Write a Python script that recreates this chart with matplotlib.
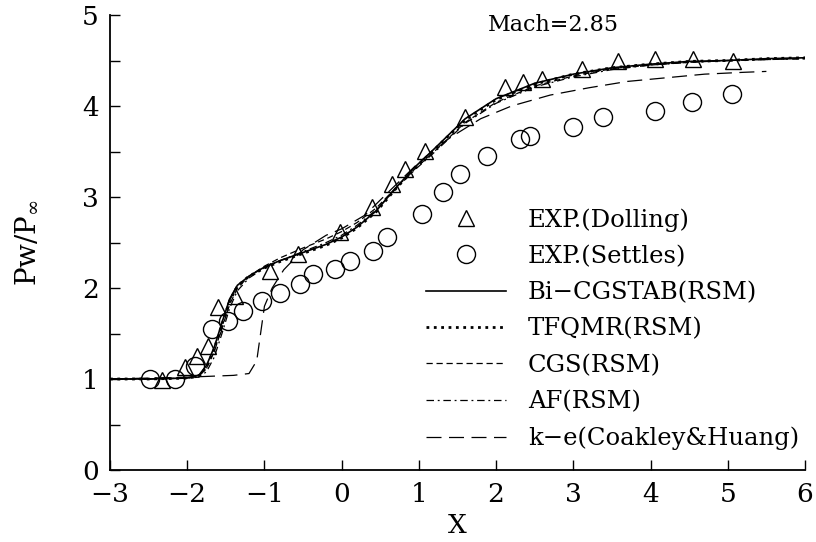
import matplotlib
matplotlib.use("Agg")
import matplotlib.pyplot as plt
from matplotlib.ticker import MultipleLocator

# --------------------------
# Data
# --------------------------
dolling_x = [-2.33, -2.03, -1.87, -1.73, -1.60, -1.38, -0.93, -0.56, -0.02, 0.39, 0.65,
             0.82, 1.08, 1.60, 2.12, 2.35, 2.60, 3.11, 3.58, 4.06, 4.55, 5.07]
dolling_y = [0.99, 1.13, 1.25, 1.36, 1.79, 1.91, 2.19, 2.37, 2.62, 2.89, 3.14,
             3.31, 3.51, 3.88, 4.21, 4.26, 4.30, 4.41, 4.49, 4.52, 4.52, 4.49]

settles_x = [-2.48, -2.16, -1.90, -1.68, -1.47, -1.28, -1.03, -0.80, -0.54, -0.37, -0.09,
             0.11, 0.41, 0.59, 1.04, 1.31, 1.53, 1.88, 2.31, 2.44, 3.00, 3.39, 4.06, 4.54, 5.06]
settles_y = [1.00, 1.00, 1.14, 1.55, 1.64, 1.75, 1.86, 1.95, 2.04, 2.15, 2.21,
             2.30, 2.41, 2.56, 2.81, 3.05, 3.25, 3.45, 3.64, 3.67, 3.77, 3.88, 3.95, 4.04, 4.13]

bicg_x = [-3.0, -2.5, -2.0, -1.85, -1.75, -1.65, -1.55, -1.45, -1.35, -1.2, -1.0, -0.8, -0.5,
          -0.2, 0.0, 0.2, 0.45, 0.7, 0.95, 1.2, 1.6, 2.0, 2.5, 3.0, 3.5, 4.0, 4.5, 5.0, 5.5, 6.0]
bicg_y = [1.00, 1.00, 1.01, 1.04, 1.15, 1.35, 1.62, 1.88, 2.03, 2.13, 2.23, 2.30, 2.39,
          2.48, 2.56, 2.67, 2.85, 3.10, 3.33, 3.53, 3.86, 4.08, 4.25, 4.35, 4.42, 4.46, 4.49, 4.50, 4.52, 4.53]

tfqmr_x = [-3.0, -2.5, -2.0, -1.85, -1.75, -1.65, -1.55, -1.45, -1.35, -1.2, -1.0, -0.8, -0.5,
           -0.2, 0.0, 0.2, 0.45, 0.7, 0.95, 1.2, 1.6, 2.0, 2.5, 3.0, 3.5, 4.0, 4.5, 5.0, 5.5, 6.0]
tfqmr_y = [1.00, 1.00, 1.01, 1.03, 1.13, 1.33, 1.60, 1.86, 2.02, 2.13, 2.22, 2.29, 2.38,
           2.47, 2.55, 2.66, 2.84, 3.09, 3.32, 3.52, 3.85, 4.07, 4.24, 4.35, 4.42, 4.46, 4.49, 4.50, 4.52, 4.53]

cgs_x = [-3.0, -2.5, -2.0, -1.85, -1.75, -1.65, -1.55, -1.45, -1.35, -1.2, -1.0, -0.8, -0.5,
         -0.2, 0.0, 0.2, 0.45, 0.7, 0.95, 1.2, 1.6, 2.0, 2.5, 3.0, 3.5, 4.0, 4.5, 5.0, 5.5, 6.0]
cgs_y = [1.00, 1.00, 1.01, 1.03, 1.12, 1.30, 1.56, 1.82, 2.00, 2.13, 2.24, 2.33, 2.44,
         2.54, 2.62, 2.72, 2.88, 3.10, 3.31, 3.50, 3.82, 4.04, 4.22, 4.33, 4.41, 4.45, 4.48, 4.50, 4.51, 4.52]

af_x = [-3.0, -2.5, -2.0, -1.85, -1.75, -1.65, -1.55, -1.45, -1.35, -1.2, -1.0, -0.8, -0.5,
        -0.2, 0.0, 0.2, 0.45, 0.7, 0.95, 1.2, 1.6, 2.0, 2.5, 3.0, 3.5, 4.0, 4.5, 5.0, 5.5, 6.0]
af_y = [1.00, 1.00, 1.01, 1.02, 1.08, 1.24, 1.50, 1.78, 1.97, 2.11, 2.22, 2.30, 2.40,
        2.50, 2.58, 2.69, 2.86, 3.09, 3.30, 3.49, 3.81, 4.03, 4.21, 4.32, 4.40, 4.45, 4.48, 4.50, 4.51, 4.52]

ke_x = [-3.0, -2.0, -1.4, -1.2, -1.1, -1.05, -1.0, -0.9, -0.75, -0.5, -0.2, 0.0, 0.3, 0.6,
        1.0, 1.4, 1.8, 2.2, 2.7, 3.2, 3.7, 4.2, 4.7, 5.2, 5.5]
ke_y = [1.00, 1.02, 1.04, 1.06, 1.20, 1.50, 1.80, 2.00, 2.20, 2.42, 2.58, 2.65, 2.80, 3.05,
        3.38, 3.65, 3.86, 4.00, 4.12, 4.20, 4.27, 4.31, 4.35, 4.37, 4.38]

# --------------------------
# Plot
# --------------------------
plt.rcParams["font.family"] = "DejaVu Serif"
plt.rcParams["mathtext.fontset"] = "dejavuserif"

fig = plt.figure(figsize=(8.16, 5.42), dpi=100)
ax = fig.add_axes([110 / 816, 72 / 542, 695 / 816, 455 / 542])

ax.plot(dolling_x, dolling_y, "^", ms=12, mfc="none", mec="black", mew=1.0, label="EXP.(Dolling)")
ax.plot(settles_x, settles_y, "o", ms=13, mfc="none", mec="black", mew=1.0, label="EXP.(Settles)")
ax.plot(bicg_x, bicg_y, "-", color="black", lw=1.2, label="Bi\u2212CGSTAB(RSM)")
ax.plot(tfqmr_x, tfqmr_y, ":", color="black", lw=2.0, label="TFQMR(RSM)")
ax.plot(cgs_x, cgs_y, "--", color="black", lw=0.9, dashes=(5, 3), label="CGS(RSM)")
ax.plot(af_x, af_y, "-.", color="black", lw=0.9, dashes=(6, 3, 1.5, 3), label="AF(RSM)")
ax.plot(ke_x, ke_y, color="black", lw=0.9, dashes=(12, 6), label="k\u2212e(Coakley&Huang)")

ax.set_xlim(-3, 6)
ax.set_ylim(0, 5)
ax.xaxis.set_major_locator(MultipleLocator(1))
ax.yaxis.set_major_locator(MultipleLocator(1))
ax.yaxis.set_minor_locator(MultipleLocator(0.5))
ax.tick_params(direction="in", length=7, width=1.0, labelsize=19)
ax.tick_params(axis="x", pad=9)
ax.tick_params(axis="y", pad=8)
ax.tick_params(which="minor", direction="in", length=7, width=1.0)
ax.spines["top"].set_visible(False)
ax.spines["right"].set_visible(False)
for s in ["left", "bottom"]:
    ax.spines[s].set_linewidth(1.3)

ax.set_xlabel("X", fontsize=19, labelpad=4)
ax.set_ylabel(r"Pw/P$_{\infty}$", fontsize=20, labelpad=30)
ax.text(0.543, 0.978, "Mach=2.85", transform=ax.transAxes, fontsize=16, va="center", ha="left")

fig.legend(loc="upper left", bbox_to_anchor=(426 / 816, 1 - 208 / 542), frameon=False,
           fontsize=17.5, handlelength=3.3, handletextpad=0.9, labelspacing=0.55,
           borderpad=0, borderaxespad=0)

fig.savefig("out.png", dpi=100)
